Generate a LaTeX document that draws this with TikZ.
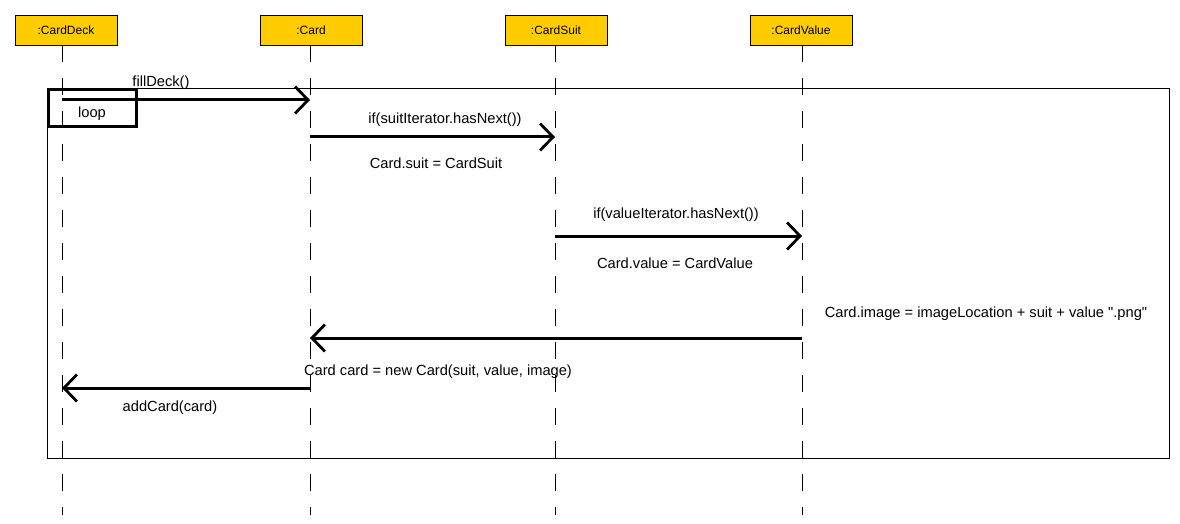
\documentclass[tikz,border=0pt]{standalone}
\usepackage{fontspec}
\setmainfont{Liberation Sans}
\newfontfamily\umlfont{Liberation Sans}
\usetikzlibrary{arrows.meta}
\definecolor{headfill}{RGB}{255,204,0}
\tikzset{
	object/.style={draw, fill=headfill, minimum width=102pt, minimum height=30pt, inner sep=0pt, font=\umlfont\fontsize{12}{14}\selectfont},
	lifeline/.style={dash pattern=on 17pt off 16pt, line width=0.8pt},
	msg/.style={line width=3pt, -{Straight Barb[length=13pt, width=27pt, line width=2.8pt]}},
	label/.style={inner sep=0pt, font=\umlfont\fontsize{14.67}{17}\selectfont}
}
\begin{document}
\begin{tikzpicture}[x=1pt, y=-1pt]
	\useasboundingbox (0,0) rectangle (1180,524);
	% objects
	\node[object] (deck) at (66,30) {:CardDeck};
	\node[object] (card) at (311,30) {:Card};
	\node[object] (suit) at (556,30) {:CardSuit};
	\node[object] (value) at (801,30) {:CardValue};
	% lifeline ends
	\coordinate (deckend) at (62,515);
	\coordinate (cardend) at (310,515);
	\coordinate (suitend) at (555,515);
	\coordinate (valueend) at (802,515);
	\draw[lifeline] (deckend |- deck.south) -- (deckend);
	\draw[lifeline] (cardend |- card.south) -- (cardend);
	\draw[lifeline] (suitend |- suit.south) -- (suitend);
	\draw[lifeline] (valueend |- value.south) -- (valueend);
	% loop frame
	\node[draw, line width=0.9pt, minimum width=1122pt, minimum height=370pt, inner sep=0pt] (frame) at (608,273) {};
	\node[draw, line width=2.8pt, minimum width=88pt, minimum height=37pt, inner sep=0pt, anchor=north west] (loop) at ([shift={(0.5,0.5)}]frame.north west) {};
	\node[label] (looptext) at (92,114) {loop};
	% messages
	\coordinate (m1a) at (62,100);
	\coordinate (m1b) at (310,100);
	\draw[msg] (m1a) -- (m1b);
	\node[label] (fill) at (161,83) {fillDeck()};
	\coordinate (m2a) at (310,137);
	\coordinate (m2b) at (555,137);
	\draw[msg] (m2a) -- (m2b);
	\node[label] (ifsuit) at (445,120) {if(suitIterator.hasNext())};
	\node[label] (setsuit) at (436,163) {Card.suit = CardSuit};
	\coordinate (m3a) at (555,236);
	\coordinate (m3b) at (802,236);
	\draw[msg] (m3a) -- (m3b);
	\node[label] (ifvalue) at (676,215) {if(valueIterator.hasNext())};
	\node[label] (setvalue) at (675,263) {Card.value = CardValue};
	\node[label] (setimage) at (986,314) {Card.image = imageLocation + suit + value ".png"};
	\coordinate (m4a) at (802,338);
	\coordinate (m4b) at (310,338);
	\draw[msg] (m4a) -- (m4b);
	\node[label] (newcard) at (438,372) {Card card = new Card(suit, value, image)};
	\coordinate (m5a) at (310,388);
	\coordinate (m5b) at (62,388);
	\draw[msg] (m5a) -- (m5b);
	\node[label] (add) at (170,408) {addCard(card)};
\end{tikzpicture}
\end{document}
